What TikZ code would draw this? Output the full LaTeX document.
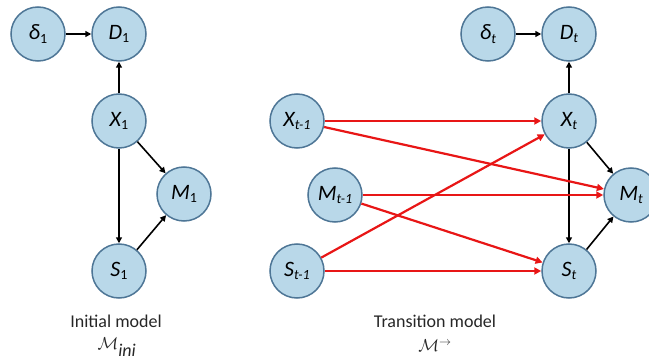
\documentclass[tikz,border=0pt]{standalone}
\usepackage{fontspec}
\setmainfont{Carlito}
\usetikzlibrary{arrows.meta}
\begin{document}
\begin{tikzpicture}[x=1pt,y=-1pt,
  var/.style={circle,draw=bordc,fill=fillc,line width=1.5pt,minimum size=54pt,inner sep=0pt,font=\fontsize{22}{22}\selectfont\itshape},
  blk/.style={draw=black,line width=1.6pt,-{Triangle[length=6pt,width=6pt]}},
  redarr/.style={draw=redc,line width=2.2pt,-{Triangle[length=7pt,width=7pt]}},
  captext/.style={font=\fontsize{18}{18}\selectfont,text=black!85,inner sep=0pt}]
\definecolor{fillc}{RGB}{185,216,233}
\definecolor{bordc}{RGB}{78,118,150}
\definecolor{redc}{RGB}{232,22,22}
\useasboundingbox (0,0) rectangle (649,361);
\newcommand{\sbs}[1]{\raisebox{-0.35ex}{\fontsize{14}{14}\selectfont #1}}
% left
\node[var] (d1) at (38,34) {δ\sbs{\upshape 1}};
\node[var] (D1) at (119,34) {D\sbs{\upshape 1}};
\node[var] (X1) at (119,121) {X\sbs{\upshape 1}};
\node[var] (M1) at (184,194) {M\sbs{\upshape 1}};
\node[var] (S1) at (119,271) {S\sbs{\upshape 1}};
\draw[blk] (d1) -- (D1);
\draw[blk] (X1) -- (D1);
\draw[blk] (X1) -- (S1);
\draw[blk] (X1) -- (M1);
\draw[blk] (S1) -- (M1);
\node[captext] (c1) at (116,321) {Initial model};
\node[captext] (m1) at (117,347) {$\mathcal{M}_{\textit{ini}}$};
% right
\node[var] (dt) at (488,34) {δ\sbs{t}};
\node[var] (Dt) at (569,34) {D\sbs{t}};
\node[var] (Xt) at (569,121) {X\sbs{t}};
\node[var] (Mt) at (631,195) {M\sbs{t}};
\node[var] (St) at (569,271) {S\sbs{t}};
\node[var] (Xp) at (297,121) {X\sbs{t-1}};
\node[var] (Mp) at (335,195) {M\sbs{t-1}};
\node[var] (Sp) at (297,271) {S\sbs{t-1}};
\draw[blk] (dt) -- (Dt);
\draw[blk] (Xt) -- (Dt);
\draw[blk] (Xt) -- (St);
\draw[blk] (Xt) -- (Mt);
\draw[blk] (St) -- (Mt);
\draw[redarr] (Xp) -- (Xt);
\draw[redarr] (Xp) -- (Mt);
\draw[redarr] (Mp) -- (Mt);
\draw[redarr] (Mp) -- (St);
\draw[redarr] (Sp) -- (Xt);
\draw[redarr] (Sp) -- (St);
\node[captext] (c2) at (435,321) {Transition model};
\node[captext] (m2) at (435,346) {$\mathcal{M}^{\rightarrow}$};
\end{tikzpicture}
\end{document}
